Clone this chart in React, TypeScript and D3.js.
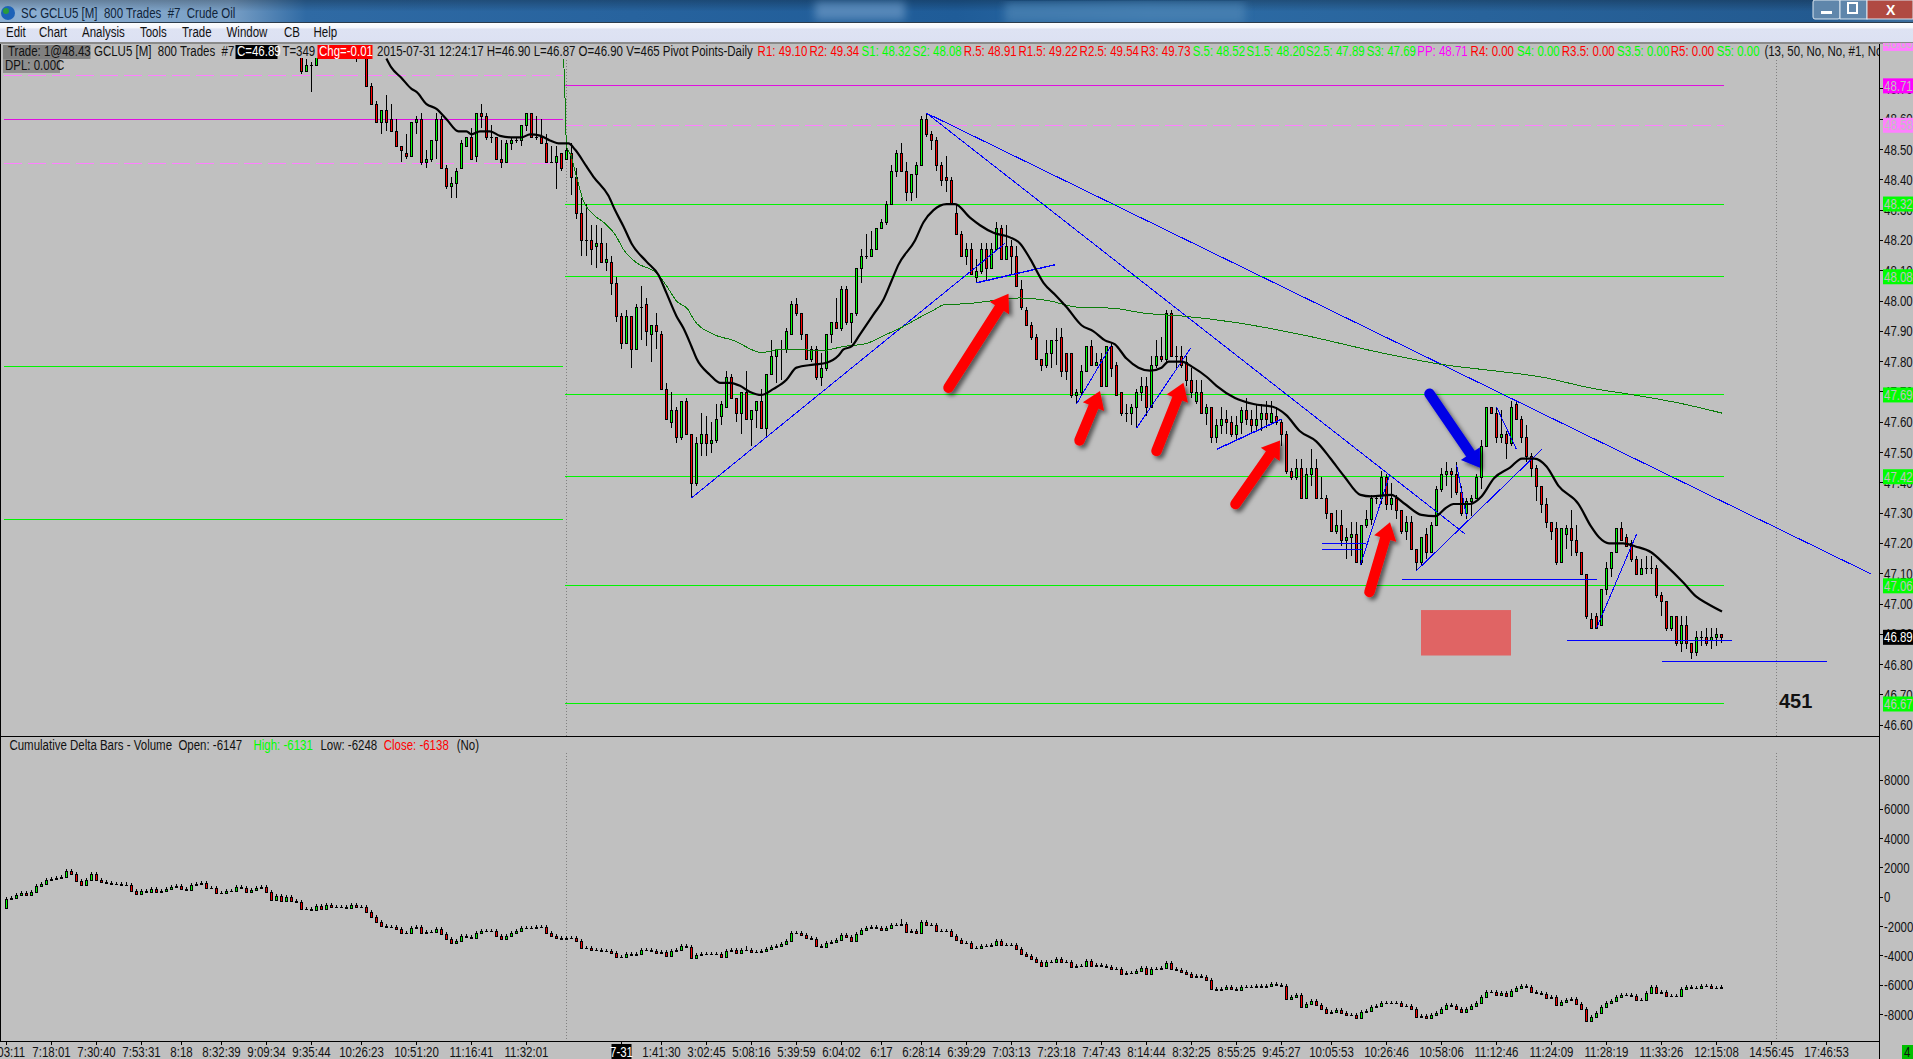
import * as d3 from 'd3';
import type { ReactNode } from 'react';

type Ohlc = [number, number, number, number];

// price bars in cents: open, high, low, close. First entry sits at bar FIRST_PRICE_BAR.
const FIRST_PRICE_BAR = 59;
const CANDLES_PRIOR_DAY: Ohlc[] = [
  [4882,4883,4875,4876],[4876,4880,4876,4878],[4878,4879,4869,4878],[4878,4886,4878,4884],
  [4884,4890,4882,4888],[4888,4893,4886,4891],[4891,4894,4885,4887],[4887,4890,4883,4885],
  [4885,4892,4884,4890],[4890,4892,4884,4886],[4886,4889,4882,4884],[4884,4888,4879,4882],
  [4882,4890,4881,4884],[4884,4885,4871,4871],[4871,4872,4865,4865],[4865,4866,4859,4859],
  [4859,4863,4855,4863],[4863,4868,4856,4859],[4860,4865,4856,4856],[4856,4860,4851,4851],
  [4851,4851,4846,4850],[4849,4855,4847,4848],[4848,4859,4848,4859],[4859,4861,4855,4860],
  [4860,4862,4845,4846],[4846,4850,4844,4847],[4847,4853,4846,4853],[4853,4862,4847,4860],
  [4860,4861,4844,4844],[4844,4845,4837,4838],[4838,4841,4834,4839],[4839,4844,4834,4843],
  [4844,4853,4844,4852],[4851,4854,4851,4854],[4854,4857,4847,4847],[4848,4862,4846,4862],
  [4862,4865,4857,4861],[4861,4862,4853,4854],[4854,4858,4852,4854],[4854,4854,4847,4847],
  [4847,4853,4844,4846],[4846,4853,4846,4852],[4852,4854,4850,4853],[4853,4854,4852,4853],
  [4853,4858,4851,4858],[4858,4862,4856,4862],[4862,4862,4854,4854],[4854,4861,4853,4854],
  [4854,4860,4852,4852],[4852,4855,4846,4846],[4846,4851,4846,4846],[4846,4851,4837,4848],
  [4849,4849,4843,4844],
];
const CANDLES_MORNING: Ohlc[] = [
  [4847,4852,4847,4850],[4849,4852,4835,4841],[4841,4844,4827,4829],[4829,4834,4815,4820],
  [4820,4832,4815,4820],[4820,4825,4812,4817],[4818,4825,4811,4819],[4819,4824,4813,4813],
  [4813,4819,4810,4814],[4813,4815,4802,4806],[4806,4808,4793,4795],[4795,4796,4784,4786],
  [4786,4797,4786,4795],[4795,4795,4778,4784],[4784,4799,4784,4798],[4798,4805,4787,4798],
  [4799,4801,4785,4790],[4789,4792,4780,4792],[4792,4796,4784,4790],[4789,4790,4771,4771],
  [4771,4773,4761,4761],[4760,4770,4758,4764],[4764,4765,4753,4755],[4755,4767,4754,4767],
  [4767,4768,4756,4756],[4756,4756,4735,4740],[4740,4755,4739,4753],[4753,4763,4749,4756],
  [4756,4762,4749,4753],[4753,4760,4750,4754],[4754,4766,4753,4761],[4762,4767,4759,4766],
  [4765,4777,4765,4775],[4775,4776,4768,4768],[4768,4768,4760,4763],[4763,4770,4756,4770],
  [4770,4777,4761,4761],[4761,4764,4752,4764],[4764,4767,4758,4767],[4767,4771,4758,4758],
  [4758,4776,4755,4776],[4776,4787,4776,4782],[4782,4784,4773,4784],[4784,4787,4774,4784],
  [4784,4791,4783,4790],[4789,4800,4789,4799],[4799,4801,4795,4796],[4796,4796,4787,4789],
  [4789,4789,4781,4781],[4781,4785,4780,4784],[4784,4785,4774,4775],[4775,4783,4772,4778],
  [4778,4789,4777,4789],[4789,4793,4786,4793],[4793,4801,4791,4791],[4791,4805,4790,4804],
  [4804,4805,4792,4793],[4793,4796,4786,4796],[4796,4811,4795,4811],[4811,4817,4806,4815],
  [4815,4822,4814,4815],[4815,4823,4815,4817],[4817,4824,4817,4824],[4824,4827,4824,4826],
  [4826,4833,4825,4832],[4832,4845,4832,4843],[4843,4850,4841,4849],[4849,4852,4843,4843],
  [4843,4846,4833,4836],[4836,4842,4833,4842],[4842,4846,4834,4845],[4845,4861,4845,4860],
];
const CANDLES_MIDDAY: Ohlc[] = [
  [4860,4862,4854,4855],[4855,4856,4850,4853],[4853,4854,4843,4845],[4845,4846,4838,4840],
  [4841,4848,4836,4840],[4840,4841,4832,4832],[4829,4832,4822,4822],[4822,4823,4815,4815],
  [4815,4819,4812,4817],[4817,4819,4809,4809],[4808,4814,4806,4810],[4810,4819,4809,4817],
  [4817,4819,4807,4811],[4811,4819,4811,4817],[4817,4826,4817,4824],[4824,4825,4814,4814],
  [4814,4825,4814,4818],[4818,4820,4809,4815],[4815,4818,4805,4805],[4804,4807,4797,4798],
  [4797,4798,4792,4792],[4792,4793,4787,4788],[4788,4789,4781,4781],[4781,4781,4777,4779],
  [4779,4787,4778,4783],[4783,4787,4778,4787],[4787,4791,4779,4787],[4788,4791,4775,4777],
  [4783,4783,4774,4777],[4783,4783,4768,4769],[4769,4771,4766,4770],[4770,4779,4769,4777],
  [4777,4785,4777,4785],[4785,4787,4779,4779],[4779,4783,4779,4780],[4781,4783,4772,4772],
  [4772,4785,4772,4785],[4785,4786,4775,4778],[4779,4780,4769,4769],[4770,4770,4762,4763],
  [4763,4766,4760,4763],[4763,4766,4759,4765],[4765,4771,4758,4770],[4770,4775,4767,4772],
  [4772,4775,4762,4765],[4765,4782,4765,4779],[4779,4787,4778,4782],[4782,4788,4780,4781],
  [4781,4797,4780,4796],[4796,4797,4782,4782],[4782,4785,4778,4782],[4782,4785,4778,4779],
  [4780,4782,4772,4774],[4774,4778,4768,4770],[4767,4774,4766,4770],[4770,4774,4763,4763],
  [4763,4766,4759,4765],[4765,4765,4753,4755],[4755,4761,4753,4759],[4759,4765,4756,4761],
  [4761,4764,4756,4760],[4760,4762,4755,4756],[4756,4762,4754,4759],[4760,4765,4756,4764],
  [4764,4768,4759,4761],[4761,4764,4756,4759],[4759,4766,4757,4761],[4761,4766,4757,4763],
  [4763,4767,4758,4761],[4760,4767,4759,4763],[4762,4765,4759,4760],[4760,4761,4752,4756],
  [4756,4757,4743,4744],[4744,4745,4741,4742],[4742,4748,4741,4745],
];
const CANDLES_AFTERNOON: Ohlc[] = [
  [4745,4748,4735,4735],[4735,4745,4735,4743],[4743,4751,4739,4745],[4745,4748,4735,4735],
  [4735,4742,4735,4735],[4735,4736,4728,4730],[4730,4730,4724,4724],[4724,4731,4723,4726],
  [4726,4731,4719,4721],[4721,4725,4715,4722],[4722,4727,4716,4723],[4723,4727,4714,4714],
  [4714,4726,4713,4726],[4726,4731,4725,4728],[4728,4736,4726,4735],[4735,4736,4733,4735],
  [4735,4744,4733,4742],[4742,4743,4731,4733],[4733,4740,4731,4735],[4735,4736,4728,4731],
  [4731,4731,4723,4724],[4724,4729,4721,4727],[4727,4729,4718,4718],[4718,4718,4711,4714],
  [4714,4722,4713,4722],[4723,4725,4715,4717],[4717,4727,4717,4726],[4726,4739,4726,4738],
  [4738,4745,4737,4743],[4743,4747,4739,4744],[4744,4745,4735,4743],[4743,4747,4736,4737],
  [4737,4739,4729,4730],[4730,4735,4728,4734],[4734,4736,4729,4735],[4735,4743,4735,4742],
  [4742,4754,4738,4752],[4752,4765,4752,4765],[4765,4765,4763,4763],[4763,4765,4753,4755],
  [4755,4764,4753,4756],[4756,4757,4748,4753],[4753,4767,4752,4765],[4766,4767,4761,4761],
  [4761,4762,4753,4755],[4755,4759,4747,4749],[4749,4750,4742,4745],[4745,4746,4734,4739],
  [4739,4739,4730,4733],[4733,4735,4725,4727],[4727,4727,4721,4724],[4725,4727,4713,4714],
  [4714,4725,4714,4725],[4723,4726,4718,4725],[4725,4731,4716,4721],[4721,4726,4716,4717],
  [4717,4717,4710,4710],[4710,4710,4695,4696],[4695,4697,4692,4692],[4696,4697,4692,4692],
  [4693,4705,4693,4705],[4705,4714,4703,4712],[4712,4717,4709,4717],[4717,4725,4717,4725],
  [4725,4727,4721,4721],[4722,4723,4719,4719],[4720,4721,4714,4715],[4715,4716,4710,4710],
  [4710,4715,4710,4712],[4712,4716,4710,4712],[4712,4716,4710,4712],[4712,4713,4702,4703],
  [4703,4704,4696,4701],[4701,4701,4691,4692],[4692,4696,4691,4696],[4696,4696,4686,4687],
  [4687,4696,4684,4693],[4693,4696,4685,4687],[4687,4687,4682,4684],[4684,4691,4683,4689],
  [4689,4691,4686,4689],[4689,4692,4686,4687],[4688,4692,4685,4689],[4689,4692,4686,4690],
  [4690,4690,4687,4689],
];

// cumulative delta closes, one per bar from bar 0
const DELTA_START = -763;
const DELTA_CLOSE_EARLY = [
  -126,-81,124,261,147,352,785,898,1149,1217,1308,1399,1787,1582,1081,808,1149,1582,1195,1012,
  990,921,921,830,808,420,193,443,375,557,375,420,580,694,739,534,511,830,898,990,
  648,603,261,284,443,443,716,648,329,511,603,716,329,-217,79,-263,10,-240,-331,-832,
  -786,-878,-581,-832,-513,-695,-695,-650,-718,-536,-673,-673,-1037,-1378,-1720,-1971,-2062,-2039,-2175,-2471,
  -2449,-2130,-2062,-2449,-2403,-2358,-2198,-2517,-2881,-3109,-3018,-2654,-2699,-2813,-2471,-2289,-2289,-2312,-2676,-2881,
  -2654,-2449,-2312,-2107,-2130,-2130,-2062,-2039,-2471,-2631,-2813,-2836,-2767,-2813,-2995,-3496,-3473,-3633,-3610,-3678,
  -3655,-3770,-4043,-4088,-3883,-3929,-3838,
];
const DELTA_CLOSE_MIDDLE = [
  -3632,-3632,-3678,-3792,-3746,-3997,-3678,-3632,-3336,-3382,-4179,-3951,-3905,-3905,-3883,-3905,-4088,-3678,-3632,-3837,
  -3609,-3632,-3723,-3723,-3701,-3541,-3382,-3359,-3222,-2995,-2448,-2425,-2585,-2813,-2858,-3359,-3427,-3131,-3086,-2904,
  -2585,-2744,-2995,-2517,-2221,-2129,-2061,-2107,-2243,-2084,-1924,-1879,-1833,-2357,-2334,-2448,-1697,-1879,-1879,-2334,
  -2312,-2334,-2676,-2904,-3154,-3154,-3496,-3450,-3313,-3313,-3245,-2995,-3291,-3245,-3245,-3564,-3905,-4042,-4247,-4452,
  -4657,-4452,-4452,-4224,-4452,-4429,-4725,-4680,-4657,-4361,-4657,-4611,-4657,-4725,-4862,-4907,-5203,-5158,-5135,-4998,
  -4839,-5203,-4885,-4885,-4839,-4498,-4862,-4953,-5090,-5249,-5408,-5363,-5408,-5636,-6251,-6319,-6228,-6137,-6274,-6319,
  -6137,-6091,-6091,-6069,-6114,-6046,-5909,-5978,
];
const DELTA_CLOSE_LATE = [
  -6046,-6911,-6775,-6684,-7458,-7276,-7094,-7321,-7595,-7868,-7800,-7709,-7914,-8050,-8005,-8210,-7800,-7731,-7458,-7413,
  -7185,-7230,-7230,-7185,-7390,-7413,-7640,-8141,-8096,-8255,-8027,-7914,-7640,-7321,-7435,-7640,-7800,-7640,-7435,-7230,
  -6820,-6456,-6479,-6661,-6547,-6707,-6411,-6206,-6069,-6092,-6434,-6547,-6593,-6843,-6775,-7367,-7162,-7025,-6957,-7253,
  -7640,-8414,-8141,-7914,-7504,-7230,-7071,-6820,-6684,-6638,-6707,-7025,-6980,-6547,-6137,-6502,-6456,-6752,-6730,-6730,
  -6274,-6115,-6160,-6206,-6046,-6024,-6206,-6160,-6138,
];
const DELTA_SPIKE_BARS = [24, 148, 179];
const DELTA_SPIKE_HIGHS = [1012, -3313, -1469];

// moving averages as bar / price-in-cents pairs
const MA13_BARS = [76,77,79,81,82,84,86,88,90.4,92,93,94.7,96.7,98.7,101.4,103,104.7,106.7,108.7,110.7,112.4,113.7,116,117.4,120.4,121.7,123.4,125,128,130.4,132,134,135.4,137,138,140.7,142.7,144.7,146.7,148.7,151,153.4,156,158,161.4,164,166.4,167.4,169,170.7,173.4,175.4,177,178.4,181.7,183.4,185.4,188,189.7,192.7,194.7,197.4,200.7,202.7,204.7,207.4,210,212,215,217.4,219.7,221.7,224,226.4,228.7,231,232.4,235,237.4,240,242,245.7,249.4,253.4,255.9,258.7,262,264.8,267.6,270.8,272.9,276.9,279.7,283,285.8,287.8,289.4,292.6,295,297.5,300.7,303.1,305.6,308,310.4,314.4,316.9,318.5,320.5,323.3,325.8,329,331.4,335.4,337.9,340.3,343.1];
const MA13_CENTS = [4880,4877,4873.6,4870,4869,4865,4863.4,4860,4856,4856,4855,4856,4856,4854.5,4854,4854,4855,4854.6,4853,4852,4852,4850,4844.4,4841,4834.7,4830,4824.6,4819,4813,4808.6,4802.6,4795,4791,4785,4781,4775.6,4773,4773,4772,4770,4769,4771,4774,4778,4779,4779.6,4782,4784,4785,4789,4795.6,4800.5,4806.6,4812,4820,4826,4830,4832,4832,4827.5,4825,4822.5,4821,4819,4814,4806,4801.6,4798,4792,4790,4787,4785.7,4781,4778,4777,4778,4780,4780,4778,4775,4772,4768,4766,4765,4762.4,4757,4753.6,4748,4742,4736,4735.5,4736,4733,4729.4,4729,4731.6,4733,4733,4735.5,4741.5,4745,4748,4748,4745.4,4739,4733,4725.6,4722,4720,4720,4719,4717,4713.5,4707,4702.5,4700,4697.5];
const MA50_BARS = [111.4,111.6,111.8,112,112.9,114,115.4,117.4,119.4,121.7,123.4,125.7,130.4,132,134,136.4,137.4,141.4,145.4,151,154.7,158.7,162.7,167.4,172,176,178.7,182,185.4,188,190.7,196.7,202.7,208.7,214,221.4,227.4,235.4,245.4,258.7,274.7,287.3,297.3,306.7,317.7,324,335.4,343.1];
const MA50_CENTS = [4880,4873,4861,4851,4848,4841,4833,4828.5,4826,4822,4817,4813,4808.6,4805,4800,4797,4794,4789,4787,4783,4784,4784,4783.5,4785,4786,4789,4791,4794,4797,4799,4799,4800,4801,4800,4798,4797.6,4796,4795,4793,4789,4783,4779,4777,4775,4771,4769.4,4766,4763];

// pivot levels in dollars
const PRIOR_MAGENTA = [48.6];
const PRIOR_PINK = [48.745, 48.454];
const PRIOR_GREEN = [47.785, 47.28];
const TODAY_MAGENTA = [48.71];
const TODAY_PINK = [48.58];
const TODAY_GREEN = [48.32, 48.08, 47.69, 47.42, 47.06, 46.67];
const LAST_PRICE = 46.89;
const TOP_TAG = 48.85;

// hand drawn trend lines: bar, cents, bar, cents
const TREND_THIN = [
  [137,4735,199.7,4819],[184,4862,372.8,4710],[184,4862,291.8,4723],[214,4766,220.8,4785],
  [226,4758,236.8,4784.4],[270.8,4713,276.7,4743],[282,4711,307,4751],[290,4746,292,4729],
  [298,4765,302,4751],[318,4692,326,4723],
];
const TREND_THICK = [[194,4806,209.8,4812],[242,4751,255,4761]];
const HORIZ_LINES = [[263,271.8,4720],[263,271,4718],[279,318,4708],[312,345,4688],[331,364,4681]];
// arrows: tail bar, tail cents, tip bar, tip cents
const RED_ARROWS = [
  [188.4,4771.4,200.4,4802.4],[214.6,4754,218.7,4770.3],[230,4750.5,235.4,4773],
  [245.8,4733,254.7,4754],[272.6,4704,276.7,4727],
];
const BLUE_ARROWS = [[284.6,4769.4,294.7,4745]];
const ZONE = [282.9, 300.9, 4698, 4683];

const PRICE_TICKS = d3.range(466, 488).map(d => d / 10);
const DELTA_TICKS = [8000, 6000, 4000, 2000, 0, -2000, -4000, -6000, -8000];
const TIME_BARS = [0,9,18,27,35,43,52,61,71,82,93,104,131,140,149,158,167,175,183,192,201,210,219,228,237,246,255,265,276,287,298,309,320,331,342,353,364];
const TIME_LABELS = ['7:03:11','7:18:01','7:30:40','7:53:31','8:18','8:32:39','9:09:34','9:35:44','10:26:23','10:51:20','11:16:41','11:32:01','1:41:30','3:02:45','5:08:16','5:39:59','6:04:02','6:17','6:28:14','6:39:29','7:03:13','7:23:18','7:47:43','8:14:44','8:32:25','8:55:25','9:45:27','10:05:53','10:26:46','10:58:06','11:12:46','11:24:09','11:28:19','11:33:26','12:15:08','14:56:45','17:46:53'];
const DAY_BAR = 123;
const MENU_ITEMS = ['Edit','Chart','Analysis','Tools','Trade','Window','CB','Help'];
const MENU_X = [6,39,82,140,182,226.5,284,313.5];
const HEADER_RED = ['R1: 49.10','R2: 49.34','R.5: 48.91','R1.5: 49.22','R2.5: 49.54','R3: 49.73','R4: 0.00','R3.5: 0.00','R5: 0.00'];
const HEADER_RED_X = [757.6,809.4,963.7,1018.4,1079.6,1140.8,1470.6,1561.8,1670.8];
const HEADER_GREEN = ['S1: 48.32','S2: 48.08','S.5: 48.52','S1.5: 48.20','S2.5: 47.89','S3: 47.69','S4: 0.00','S3.5: 0.00','S5: 0.00'];
const HEADER_GREEN_X = [861.6,912.6,1192.7,1246.5,1306,1366.8,1517,1617,1716.8];

const W = 1913;
const H = 1059;
const FONT = '"Liberation Sans",Arial,sans-serif';
const AXIS_X = 1879.5;
const BG = '#c0c0c0';
const SQUEEZE = 0.82; // reference UI font is much narrower than Liberation Sans

const x = d3.scaleLinear().domain([0, 343]).range([6.5, 1721.5]);
const yPrice = d3.scaleLinear().domain([46.6, 47.6]).range([725.2, 422.2]);
const yCents = (c: number) => yPrice(c / 100);
const yDelta = d3.scaleLinear().domain([-8000, 8000]).range([1014.5, 780]);

const ALL_CANDLES = [...CANDLES_PRIOR_DAY, ...CANDLES_MORNING, ...CANDLES_MIDDAY, ...CANDLES_AFTERNOON];
const DELTA_CLOSE = [...DELTA_CLOSE_EARLY, ...DELTA_CLOSE_MIDDLE, ...DELTA_CLOSE_LATE];

const maLine = d3.line<[number, number]>().x(d => x(d[0])).y(d => yCents(d[1])).curve(d3.curveMonotoneX);

function T({ x: tx, y: ty, fill = '#111', anchor, children }: { x: number; y: number; fill?: string; anchor?: string; children: ReactNode }) {
  return (
    <text
      transform={`translate(${tx},${ty}) scale(${SQUEEZE},1)`}
      fontFamily={FONT}
      fontSize={14}
      fill={fill}
      textAnchor={anchor}
      style={{ whiteSpace: 'pre' }}
    >
      {children}
    </text>
  );
}

function Candle({ bar, o, h, l, c, y, wick }: { bar: number; o: number; h: number; l: number; c: number; y: (v: number) => number; wick?: boolean }) {
  const cx = x(bar);
  const top = Math.round(y(Math.max(o, c))) + 0.5;
  const bot = Math.round(y(Math.min(o, c))) + 0.5;
  return (
    <g shapeRendering="crispEdges">
      {wick !== false && <line x1={cx} x2={cx} y1={y(h)} y2={y(l)} stroke="#000" />}
      {bot - top < 1 ? (
        <line x1={cx - 1.5} x2={cx + 1.5} y1={top} y2={top} stroke="#000" />
      ) : (
        <rect x={cx - 1} y={top} width={2} height={bot - top} fill={c >= o ? '#00ff00' : '#ff0000'} stroke="#000" />
      )}
    </g>
  );
}

function Arrow({ a, color }: { a: number[]; color: string }) {
  const x0 = x(a[0]), y0 = yCents(a[1]), x1 = x(a[2]), y1 = yCents(a[3]);
  const len = Math.hypot(x1 - x0, y1 - y0);
  const ux = (x1 - x0) / len, uy = (y1 - y0) / len;
  const headL = 17, headW = 11.5;
  const bx = x1 - ux * headL, by = y1 - uy * headL;
  const head = `M${x1},${y1}L${bx - uy * headW},${by + ux * headW}L${bx + uy * headW},${by - ux * headW}Z`;
  return (
    <g filter="url(#arrowShadow)">
      <line x1={x0} y1={y0} x2={bx} y2={by} stroke={color} strokeWidth={10.5} strokeLinecap="round" />
      <path d={head} fill={color} />
    </g>
  );
}

function Label({ value, fill, color }: { value: number; fill: string; color: string }) {
  const yy = yPrice(value);
  return (
    <g>
      <rect x={1883} y={yy - 7.5} width={30} height={15} fill={fill} />
      <T x={1884} y={yy + 5} fill={color}>{value.toFixed(2)}</T>
    </g>
  );
}

export default function App() {
  const deltaBars = DELTA_CLOSE.map((c, i) => ({ o: i === 0 ? DELTA_START : DELTA_CLOSE[i - 1], c, i }));
  return (
    <svg width={W} height={H} viewBox={`0 0 ${W} ${H}`} style={{ position: 'absolute', left: 0, top: 0, display: 'block' }}>
      <defs>
        <linearGradient id="titleBar" x1="0" x2="1" y1="0" y2="0">
          <stop offset="0" stopColor="#8db0d3" />
          <stop offset="0.12" stopColor="#7aa0c6" />
          <stop offset="0.16" stopColor="#2f6aa4" />
          <stop offset="0.5" stopColor="#1f5c98" />
          <stop offset="0.6" stopColor="#2d6ca6" />
          <stop offset="0.95" stopColor="#235a90" />
          <stop offset="1" stopColor="#3d6f9f" />
        </linearGradient>
        <linearGradient id="titleShade" x1="0" x2="0" y1="0" y2="1">
          <stop offset="0" stopColor="#000" stopOpacity={0.25} />
          <stop offset="0.5" stopColor="#000" stopOpacity={0} />
        </linearGradient>
        <linearGradient id="menuBar" x1="0" x2="0" y1="0" y2="1">
          <stop offset="0" stopColor="#ffffff" />
          <stop offset="0.28" stopColor="#f4f6fc" />
          <stop offset="0.33" stopColor="#dee3f3" />
          <stop offset="1" stopColor="#dce1f2" />
        </linearGradient>
        <filter id="arrowShadow" x="-30%" y="-30%" width="170%" height="170%">
          <feDropShadow dx={3} dy={3} stdDeviation={2} floodColor="#000" floodOpacity={0.55} />
        </filter>
        <filter id="soft"><feGaussianBlur stdDeviation={4} /></filter>
        <clipPath id="pricePlot"><rect x={0} y={58} width={AXIS_X} height={679} /></clipPath>
        <clipPath id="headerClip"><rect x={0} y={43} width={AXIS_X} height={17} /></clipPath>
        <clipPath id="tagClip"><rect x={1880} y={43} width={33} height={20} /></clipPath>
      </defs>

      {/* window chrome */}
      <rect width={W} height={H} fill={BG} />
      <rect width={W} height={23} fill="url(#titleBar)" />
      <rect width={W} height={23} fill="url(#titleShade)" />
      <rect x={815} y={2} width={90} height={18} fill="#6d9ac6" opacity={0.7} filter="url(#soft)" />
      <rect x={1005} y={3} width={240} height={20} fill="#4f86b5" opacity={0.7} filter="url(#soft)" />
      <circle cx={8} cy={13} r={7} fill="#1c62b8" />
      <circle cx={6} cy={11} r={3} fill="#2a9a3c" />
      <T x={21} y={18} fill="#10243a">SC GCLU5 [M]  800 Trades  #7  Crude Oil</T>
      <g>
        <rect x={1813} y={0} width={27} height={19} rx={2} fill="#5f86ab" stroke="#dbe6f0" />
        <rect x={1840} y={0} width={27} height={19} fill="#5f86ab" stroke="#dbe6f0" />
        <rect x={1867} y={0} width={46} height={19} fill="#b04a42" stroke="#dbe6f0" />
        <rect x={1821} y={11} width={11} height={3} fill="#fff" />
        <rect x={1848} y={3} width={9} height={10} fill="none" stroke="#fff" strokeWidth={2} />
        <text x={1886} y={15} fontSize={14} fontWeight={700} fontFamily="Liberation Sans" fill="#fff">X</text>
      </g>
      <rect y={22} width={W} height={21} fill="url(#menuBar)" />
      <rect y={22} width={W} height={1} fill="#2b3b4b" />
      <rect y={42} width={W} height={2} fill="#8a8a8a" />
      {MENU_ITEMS.map((m, i) => <T key={m} x={MENU_X[i]} y={37}>{m}</T>)}

      {/* session separators */}
      <g stroke="#808080" strokeDasharray="1,2" shapeRendering="crispEdges">
        <line x1={566.5} x2={566.5} y1={60} y2={736} />
        <line x1={566.5} x2={566.5} y1={753} y2={1041} />
        <line x1={1776.5} x2={1776.5} y1={60} y2={736} />
        <line x1={1776.5} x2={1776.5} y1={753} y2={1041} />
      </g>

      <g clipPath="url(#pricePlot)">
        {/* pivot levels */}
        <g shapeRendering="crispEdges" fill="none">
          {PRIOR_MAGENTA.map(v => <line key={v} x1={4} x2={563} y1={yPrice(v)} y2={yPrice(v)} stroke="#e010e0" />)}
          {PRIOR_PINK.map(v => <line key={v} x1={4} x2={563} y1={yPrice(v)} y2={yPrice(v)} stroke="#ff80ff" strokeDasharray="18,6" />)}
          {PRIOR_GREEN.map(v => <line key={v} x1={4} x2={563} y1={yPrice(v)} y2={yPrice(v)} stroke="#00f400" />)}
          {TODAY_MAGENTA.map(v => <line key={v} x1={565} x2={1724} y1={yPrice(v)} y2={yPrice(v)} stroke="#e010e0" />)}
          {TODAY_PINK.map(v => <line key={v} x1={565} x2={1724} y1={yPrice(v)} y2={yPrice(v)} stroke="#ff80ff" strokeDasharray="18,6" />)}
          {TODAY_GREEN.map(v => <line key={v} x1={565} x2={1724} y1={yPrice(v)} y2={yPrice(v)} stroke="#00f400" />)}
        </g>

        {/* zone */}
        <rect x={x(ZONE[0])} y={yCents(ZONE[2])} width={x(ZONE[1]) - x(ZONE[0])} height={yCents(ZONE[3]) - yCents(ZONE[2])} fill="#e06464" />

        {/* candles */}
        {ALL_CANDLES.map((d, i) => (
          <Candle key={i} bar={FIRST_PRICE_BAR + i} o={d[0]} h={d[1]} l={d[2]} c={d[3]} y={yCents} />
        ))}

        {/* trend lines */}
        <g stroke="#0000ff" fill="none" shapeRendering="crispEdges">
          {TREND_THIN.map((t, i) => (
            <line key={i} x1={x(t[0])} y1={yCents(t[1])} x2={x(t[2])} y2={yCents(t[3])} strokeWidth={1} />
          ))}
          {TREND_THICK.map((t, i) => (
            <line key={i} x1={x(t[0])} y1={yCents(t[1])} x2={x(t[2])} y2={yCents(t[3])} strokeWidth={1.4} />
          ))}
          {HORIZ_LINES.map((t, i) => (
            <line key={i} x1={x(t[0])} x2={x(t[1])} y1={yCents(t[2])} y2={yCents(t[2])} strokeWidth={1} />
          ))}
        </g>

        {/* moving averages */}
        <path d={maLine(MA50_BARS.map((b, i) => [b, MA50_CENTS[i]] as [number, number])) ?? ''} fill="none" stroke="#0a7d0a" strokeWidth={1} shapeRendering="crispEdges" />
        <path d={maLine(MA13_BARS.map((b, i) => [b, MA13_CENTS[i]] as [number, number])) ?? ''} fill="none" stroke="#000" strokeWidth={2.2} />

        {RED_ARROWS.map((a, i) => <Arrow key={i} a={a} color="#ff0000" />)}
        {BLUE_ARROWS.map((a, i) => <Arrow key={i} a={a} color="#0000e6" />)}
      </g>

      <text x={1779} y={708} fontSize={20} fontWeight={700} fontFamily="Liberation Sans" fill="#111">451</text>

      {/* header row */}
      <g clipPath="url(#headerClip)">
        <rect x={3} y={45} width={87.5} height={14} fill="#808080" />
        <rect x={3} y={59} width={57} height={14} fill="#909090" />
        <T x={8} y={56}>Trade: 1@48.43</T>
        <T x={94} y={56}>GCLU5 [M]  800 Trades  #7</T>
        <rect x={235.5} y={45} width={42} height={14} fill="#000" />
        <T x={237} y={56} fill="#fff">C=46.89</T>
        <T x={282.4} y={56}>T=349</T>
        <rect x={317.5} y={45} width={55} height={14} fill="#ff0000" />
        <T x={319} y={56} fill="#fff">Chg=-0.01</T>
        <T x={377} y={56}>2015-07-31 12:24:17 H=46.90 L=46.87 O=46.90 V=465 Pivot Points-Daily</T>
        {HEADER_RED.map((t, i) => <T key={t} x={HEADER_RED_X[i]} y={56} fill="#ff0000">{t}</T>)}
        {HEADER_GREEN.map((t, i) => <T key={t} x={HEADER_GREEN_X[i]} y={56} fill="#00ff00">{t}</T>)}
        <T x={1417.3} y={56} fill="#ff00ff">PP: 48.71</T>
        <T x={1764.4} y={56}>(13, 50, No, No, #1, No</T>
      </g>
      <rect x={3} y={59} width={57} height={14} fill="#909090" />
      <T x={5} y={70}>DPL: 0.00C</T>

      {/* delta panel */}
      <T x={9.4} y={750}>Cumulative Delta Bars - Volume  Open: -6147</T>
      <T x={253.5} y={750} fill="#00ff00">High: -6131</T>
      <T x={320.4} y={750}>Low: -6248</T>
      <T x={383.7} y={750} fill="#ff0000">Close: -6138</T>
      <T x={456.7} y={750}>(No)</T>
      {DELTA_SPIKE_BARS.map((b, i) => (
        <line key={b} x1={x(b)} x2={x(b)} y1={yDelta(DELTA_SPIKE_HIGHS[i])} y2={yDelta(DELTA_CLOSE[b])} stroke="#000" shapeRendering="crispEdges" />
      ))}
      {deltaBars.map(d => (
        <g key={d.i}>
          <line x1={x(d.i)} x2={x(d.i)} y1={yDelta(Math.max(d.o, d.c)) - 2} y2={yDelta(Math.min(d.o, d.c)) + 1} stroke="#000" shapeRendering="crispEdges" />
          <Candle bar={d.i} o={d.o} h={d.o} l={d.o} c={d.c} y={yDelta} wick={false} />
        </g>
      ))}

      {/* frames and axes */}
      <g stroke="#000" shapeRendering="crispEdges">
        <line x1={0.5} x2={0.5} y1={44} y2={1041.5} />
        <line x1={AXIS_X} x2={AXIS_X} y1={44} y2={1059} />
        <line x1={0} x2={AXIS_X} y1={736.5} y2={736.5} />
        <line x1={0} x2={AXIS_X} y1={1041.5} y2={1041.5} />
        {PRICE_TICKS.map(t => <line key={t} x1={AXIS_X} x2={AXIS_X + 3} y1={yPrice(t)} y2={yPrice(t)} />)}
        {DELTA_TICKS.map(t => <line key={t} x1={AXIS_X} x2={AXIS_X + 3} y1={yDelta(t)} y2={yDelta(t)} />)}
        {TIME_BARS.map(b => <line key={b} x1={x(b)} x2={x(b)} y1={1041.5} y2={1045} />)}
        <line x1={x(DAY_BAR)} x2={x(DAY_BAR)} y1={1041.5} y2={1045} />
      </g>
      {PRICE_TICKS.map(t => <T key={t} x={1884} y={yPrice(t) + 5}>{t.toFixed(2)}</T>)}
      {DELTA_TICKS.map(t => <T key={t} x={1884} y={yDelta(t) + 5}>{t}</T>)}
      {TIME_LABELS.map((t, i) => <T key={i} x={x(TIME_BARS[i])} y={1057} anchor="middle">{t}</T>)}
      <rect x={x(DAY_BAR) - 10} y={1044} width={20} height={15} fill="#000" />
      <T x={x(DAY_BAR)} y={1057} anchor="middle" fill="#fff">7-31</T>

      {/* level tags */}
      <g clipPath="url(#tagClip)"><Label value={TOP_TAG} fill="#ff80ff" color={BG} /></g>
      {TODAY_MAGENTA.map(v => <Label key={v} value={v} fill="#ff00ff" color={BG} />)}
      {TODAY_PINK.map(v => <Label key={v} value={v} fill="#ff80ff" color={BG} />)}
      {TODAY_GREEN.map(v => <Label key={v} value={v} fill="#00ff00" color={BG} />)}
      <Label value={LAST_PRICE} fill="#000" color="#fff" />
      <rect x={1902} y={1045} width={11} height={14} fill="#00c000" />
      <T x={1904} y={1057}>4</T>
    </svg>
  );
}
